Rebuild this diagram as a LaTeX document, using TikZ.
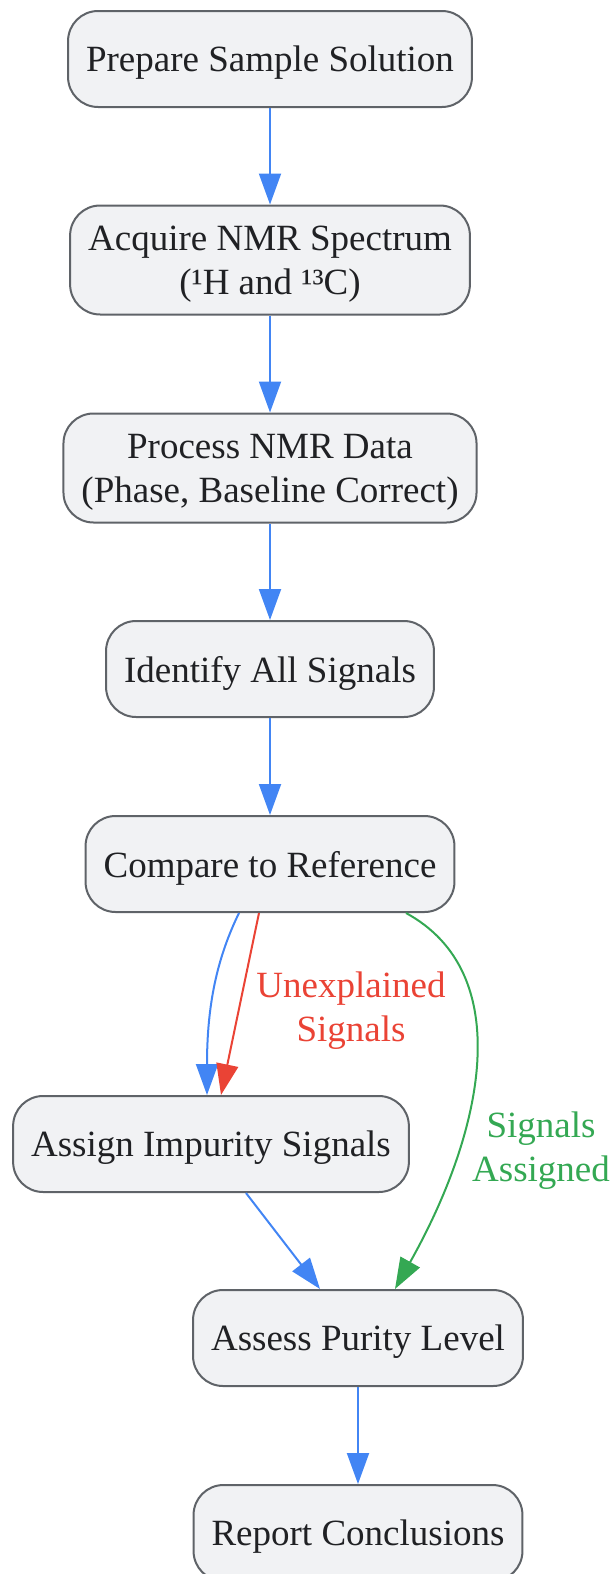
\documentclass[tikz,border=0pt]{standalone}
\usepackage{fontspec}
\setmainfont{Liberation Serif}
\usetikzlibrary{arrows.meta}
\usetikzlibrary{calc}

\definecolor{boxfill}{HTML}{F1F2F4}
\definecolor{boxline}{HTML}{5F6368}
\definecolor{txtcol}{HTML}{202124}
\definecolor{flowblue}{HTML}{4285F4}
\definecolor{flowred}{HTML}{EA4335}
\definecolor{flowgreen}{HTML}{34A853}

\tikzset{
    stepbox/.style={draw=boxline, fill=boxfill, line width=1pt, rounded corners=15pt,
        text=txtcol, align=center, inner xsep=9pt, minimum height=48pt, text depth=-1.5pt,
        font=\fontsize{18.5}{22}\selectfont},
    twoline/.style={minimum height=54.5pt},
    flow/.style={line width=1pt, -{Triangle[length=15.5pt,width=11pt]}},
    lbl/.style={align=center, font=\fontsize{18.5}{22}\selectfont}
}

\begin{document}
\begin{tikzpicture}[x=0.5pt, y=-0.5pt]
        \useasboundingbox (0,0) rectangle (613,1574);

        \node[stepbox]          (prep)  at (270,59)     {Prepare Sample Solution};
        \node[stepbox, twoline] (acq)   at (270,260)    {Acquire NMR Spectrum\\(¹H and ¹³C)};
        \node[stepbox, twoline] (proc)  at (270,468)    {Process NMR Data\\(Phase, Baseline Correct)};
        \node[stepbox]          (ident) at (270,669)    {Identify All Signals};
        \node[stepbox]          (cmp)   at (270,864)    {Compare to Reference};
        \node[stepbox]          (asg)   at (211,1144)   {Assign Impurity Signals};
        \node[stepbox]          (ass)   at (358,1338)   {Assess Purity Level};
        \node[stepbox]          (rep)   at (358,1533)   {Report Conclusions};

        \draw[flow, flowblue] (prep) -- (acq);
        \draw[flow, flowblue] (acq) -- (proc);
        \draw[flow, flowblue] (proc) -- (ident);
        \draw[flow, flowblue] (ident) -- (cmp);

        \draw[flow, flowblue] ($(cmp.south)+(-31,0)$) .. controls +(-22,45) and +(0,-90) .. ($(asg.north)+(-4,0)$);
        \draw[flow, flowred] ($(cmp.south)+(-11,0)$) -- ($(asg.north)+(10,0)$);
        \node[lbl, text=flowred] (unexp) at (351,1011) {Unexplained\\Signals};

        \draw[flow, flowgreen] ($(cmp.south)+(136,0)$) .. controls +(110,60) and +(90,-160) .. ($(ass.north)+(37,0)$);
        \node[lbl, text=flowgreen] (sigas) at (541,1151) {Signals\\Assigned};

        \draw[flow, flowblue] ($(asg.south)+(35,0)$) -- ($(ass.north)+(-38,0)$);
        \draw[flow, flowblue] (ass) -- (rep);

    \end{tikzpicture}
\end{document}
